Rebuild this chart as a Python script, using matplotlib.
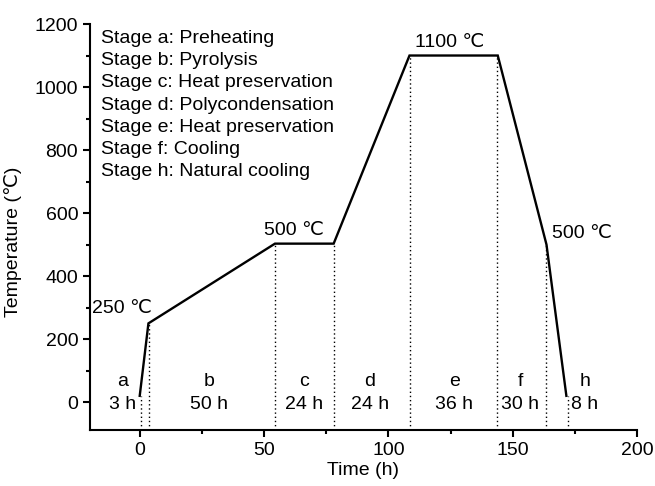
import matplotlib
matplotlib.use('Agg')
import matplotlib.pyplot as plt
from matplotlib.ticker import MultipleLocator

plt.rcParams['font.family'] = ['Liberation Sans', 'DejaVu Sans']
plt.rcParams['font.size'] = 14

# temperature program
time_h = [0, 3.5, 54.4, 78.0, 108.5, 144.0, 163.6, 171.6]
temp_c = [20, 250, 503, 503, 1100, 1100, 500, 20]

# stage boundaries (dotted lines) and the temperature they reach
bound_x = [0.4, 3.6, 54.5, 78.2, 108.8, 143.7, 163.4, 172.3]
bound_y = [20, 250, 503, 503, 1100, 1100, 500, 20]

stage_letters = ['a', 'b', 'c', 'd', 'e', 'f', 'h']
stage_hours = ['3 h', '50 h', '24 h', '24 h', '36 h', '30 h', '8 h']
stage_pos = [-7, 28, 66, 92.5, 126.5, 153, 179]

stage_names = ['Stage a: Preheating', 'Stage b: Pyrolysis',
               'Stage c: Heat preservation', 'Stage d: Polycondensation',
               'Stage e: Heat preservation', 'Stage f: Cooling',
               'Stage h: Natural cooling']

fig = plt.figure(figsize=(6.55, 4.86), dpi=100)
ax = fig.add_axes([0.1374, 0.1142, 0.8351, 0.8364])

ax.plot(time_h, temp_c, color='black', lw=1.7, solid_joinstyle='miter')
ax.vlines(bound_x, -90, bound_y, colors='black', linestyles=(0, (1, 2)), lw=1.0)

for x, l, h in zip(stage_pos, stage_letters, stage_hours):
    ax.text(x, 67, l, ha='center', va='center')
    ax.text(x, -8, h, ha='center', va='center')

for i, s in enumerate(stage_names):
    ax.text(-15.4, 1154 - 70.4 * i, s, ha='left', va='center')

ax.text(-7, 296, '250 ℃', ha='center', va='center')
ax.text(62, 544, '500 ℃', ha='center', va='center')
ax.text(124.7, 1142, '1100 ℃', ha='center', va='center')
ax.text(178, 534, '500 ℃', ha='center', va='center')

ax.set_xlim(-20, 200)
ax.set_ylim(-90, 1200)
ax.xaxis.set_major_locator(MultipleLocator(50))
ax.xaxis.set_minor_locator(MultipleLocator(25))
ax.yaxis.set_major_locator(MultipleLocator(200))
ax.yaxis.set_minor_locator(MultipleLocator(100))

for side in ['top', 'right']:
    ax.spines[side].set_visible(False)
for side in ['left', 'bottom']:
    ax.spines[side].set_linewidth(1.5)
ax.tick_params(which='major', length=5, width=1.5, direction='out')
ax.tick_params(which='minor', length=3, width=1.5, direction='out')

ax.set_xlabel('Time (h)', labelpad=2)
ax.set_ylabel('Temperature (℃)')
ax.yaxis.set_label_coords(-0.125, 0.464)

fig.savefig('out.png', dpi=100)
